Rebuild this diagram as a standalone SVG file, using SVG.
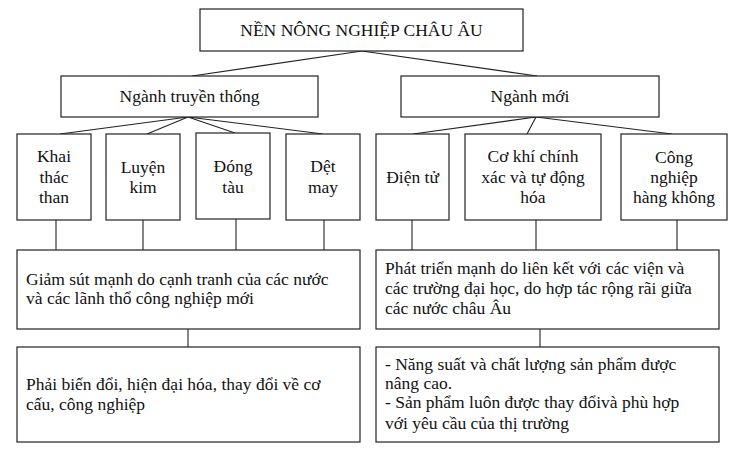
<svg xmlns="http://www.w3.org/2000/svg" width="740" height="462" viewBox="0 0 740 462" font-family="'Liberation Serif', 'Times New Roman', serif">
<style>
.box{fill:#fff;stroke:#222;stroke-width:1.2}
.ln{stroke:#222;stroke-width:1.1;fill:none}
text{font-family:'Liberation Serif','Times New Roman',serif;font-size:17.5px;fill:#111}
.c{text-anchor:middle}
</style>
<rect width="740" height="462" fill="#fff"/>
<g id="connectors">
<line class="ln" x1="362" y1="51" x2="192" y2="76"/>
<line class="ln" x1="362" y1="51" x2="537" y2="76"/>
<line class="ln" x1="188" y1="117" x2="60" y2="134"/>
<line class="ln" x1="188" y1="117" x2="147" y2="134"/>
<line class="ln" x1="188" y1="117" x2="235" y2="133"/>
<line class="ln" x1="188" y1="117" x2="323" y2="134"/>
<line class="ln" x1="536" y1="117" x2="413" y2="134"/>
<line class="ln" x1="536" y1="117" x2="527" y2="134"/>
<line class="ln" x1="536" y1="117" x2="672" y2="134"/>
<line class="ln" x1="56" y1="220" x2="56" y2="250"/>
<line class="ln" x1="143" y1="220" x2="143" y2="250"/>
<line class="ln" x1="236" y1="219" x2="236" y2="250"/>
<line class="ln" x1="324" y1="220" x2="324" y2="250"/>
<line class="ln" x1="412" y1="220" x2="412" y2="250"/>
<line class="ln" x1="536" y1="220" x2="536" y2="250"/>
<line class="ln" x1="677" y1="220" x2="677" y2="250"/>
<line class="ln" x1="188" y1="329" x2="188" y2="347"/>
<line class="ln" x1="540" y1="329" x2="540" y2="347"/>
</g>
<g id="root">
<rect class="box" x="200" y="9" width="323" height="42"/>
<text class="c" x="361.5" y="36">NỀN NÔNG NGHIỆP CHÂU ÂU</text>
</g>
<g id="nganh-truyen-thong">
<rect class="box" x="61" y="76" width="257" height="41"/>
<text class="c" x="189.5" y="102">Ngành truyền thống</text>
</g>
<g id="nganh-moi">
<rect class="box" x="401" y="76" width="258" height="41"/>
<text class="c" x="530" y="102">Ngành mới</text>
</g>
<g id="khai-thac-than">
<rect class="box" x="17" y="134" width="74" height="86"/>
<text class="c" x="54" y="162">Khai</text>
<text class="c" x="54" y="183">thác</text>
<text class="c" x="54" y="203">than</text>
</g>
<g id="luyen-kim">
<rect class="box" x="106" y="134" width="74" height="86"/>
<text class="c" x="143" y="173">Luyện</text>
<text class="c" x="143" y="193">kim</text>
</g>
<g id="dong-tau">
<rect class="box" x="196" y="133" width="74" height="86"/>
<text class="c" x="233" y="172">Đóng</text>
<text class="c" x="233" y="193">tàu</text>
</g>
<g id="det-may">
<rect class="box" x="286" y="134" width="74" height="86"/>
<text class="c" x="323" y="172">Dệt</text>
<text class="c" x="323" y="193">may</text>
</g>
<g id="dien-tu">
<rect class="box" x="376" y="134" width="73" height="86"/>
<text class="c" x="412.5" y="183">Điện tử</text>
</g>
<g id="co-khi">
<rect class="box" x="465" y="134" width="136" height="86"/>
<text class="c" x="533" y="162">Cơ khí chính</text>
<text class="c" x="533" y="183">xác và tự động</text>
<text class="c" x="533" y="203">hóa</text>
</g>
<g id="cong-nghiep-hang-khong">
<rect class="box" x="621" y="134" width="106" height="86"/>
<text class="c" x="674" y="163">Công</text>
<text class="c" x="674" y="183">nghiệp</text>
<text class="c" x="674" y="203">hàng không</text>
</g>
<g id="giam-sut">
<rect class="box" x="17" y="250" width="343" height="79"/>
<text x="26" y="285">Giảm sút mạnh do cạnh tranh của các nước</text>
<text x="26" y="304">và các lãnh thổ công nghiệp mới</text>
</g>
<g id="phai-bien-doi">
<rect class="box" x="17" y="347" width="343" height="95"/>
<text x="26" y="390">Phải biến đổi, hiện đại hóa, thay đổi về cơ</text>
<text x="26" y="410">cấu, công nghiệp</text>
</g>
<g id="phat-trien">
<rect class="box" x="376" y="250" width="343" height="79"/>
<text x="385" y="274">Phát triển mạnh do liên kết với các viện và</text>
<text x="385" y="294">các trường đại học, do hợp tác rộng rãi giữa</text>
<text x="385" y="314">các nước châu Âu</text>
</g>
<g id="nang-suat">
<rect class="box" x="376" y="347" width="343" height="95"/>
<text x="385" y="370">- Năng suất và chất lượng sản phẩm được</text>
<text x="385" y="389">nâng cao.</text>
<text x="385" y="408">- Sản phẩm luôn được thay đổivà phù hợp</text>
<text x="385" y="429">với yêu cầu của thị trường</text>
</g>
</svg>
